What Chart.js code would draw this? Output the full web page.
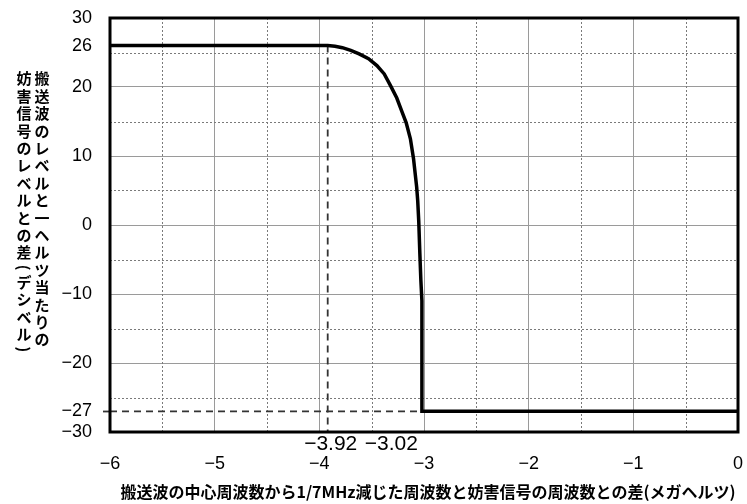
<!DOCTYPE html>
<html>
<head>
<meta charset="utf-8">
<script src="https://cdn.jsdelivr.net/npm/chart.js@4"></script>
<style>
  html, body { margin: 0; padding: 0; background: #fff; }
  #wrap { width: 747px; height: 504px; }
</style>
</head>
<body>
<div id="wrap"><canvas id="c" width="747" height="504"></canvas></div>
<script>
// Protection ratio curve (dB) against frequency offset (MHz)
const curveX = [-6, -3.92, -3.85, -3.78, -3.70, -3.62, -3.53, -3.45, -3.38, -3.32, -3.26, -3.21, -3.17, -3.13, -3.10, -3.07, -3.06, -3.05, -3.04, -3.03, -3.02, -3.02, 0];
const curveY = [26, 26, 25.9, 25.7, 25.3, 24.8, 24.1, 23.1, 21.9, 20.2, 18.4, 16.4, 14.8, 12.5, 9.6, 5.5, 3.5, 0.5, -4, -8, -11, -27, -27];

// Axis ranges and labelled ticks
const xRange = [-6, 0];
const yRange = [-30, 30];
const xTicks = [-6, -5, -4, -3, -2, -1, 0];
const yTicks = [30, 26, 20, 10, 0, -10, -20, -27, -30];

// Marked break points of the curve
const markX = [-3.92, -3.02];
const markY = [26, -27];

const xTitle = '搬送波の中心周波数から1/7MHz減じた周波数と妨害信号の周波数との差(メガヘルツ)';
const yTitleRight = '搬送波のレベルと一ヘルツ当たりの';
const yTitleLeft = '妨害信号のレベルとの差(デシベル)';

const fmt = v => (v < 0 ? '\u2212' : '') + Math.abs(v);
const numFamily = '"Liberation Sans", Arial, sans-serif';
const tickFont = { family: numFamily, size: 18 };
const titleFont = '"Noto Sans CJK JP", sans-serif';
const gridGray = '#9a9a9a';

const decor = {
  id: 'decor',
  beforeDatasetsDraw(chart) {
    const { ctx, chartArea: a, scales: { x, y } } = chart;
    ctx.save();
    ctx.strokeStyle = '#7a7a7a';
    ctx.lineWidth = 1;
    ctx.setLineDash([2, 2]);
    // minor (half-step) grid lines
    for (let v = xRange[0] + 0.5; v < xRange[1]; v += 1) {
      const px = Math.round(x.getPixelForValue(v)) + 0.5;
      ctx.beginPath(); ctx.moveTo(px, a.top); ctx.lineTo(px, a.bottom); ctx.stroke();
    }
    for (let v = yRange[0] + 5; v < yRange[1]; v += 10) {
      const py = Math.round(y.getPixelForValue(v)) + 0.5;
      ctx.beginPath(); ctx.moveTo(a.left, py); ctx.lineTo(a.right, py); ctx.stroke();
    }
    ctx.restore();
  },
  afterDraw(chart) {
    const { ctx, chartArea: a, scales: { x, y } } = chart;
    ctx.save();
    // plot frame
    ctx.strokeStyle = '#000';
    ctx.lineWidth = 3;
    ctx.strokeRect(a.left, a.top, a.right - a.left, a.bottom - a.top);

    // break point labels just under the axis
    ctx.fillStyle = '#000';
    ctx.font = `21px ${numFamily}`;
    ctx.textBaseline = 'middle';
    ctx.textAlign = 'center';
    ctx.fillText(fmt(markX[0]), x.getPixelForValue(markX[0]) + 3, a.bottom + 12);
    ctx.textAlign = 'right';
    ctx.fillText(fmt(markX[1]), x.getPixelForValue(markX[1]) - 4, a.bottom + 12);

    // x axis title
    ctx.font = `bold 16px ${titleFont}`;
    ctx.textAlign = 'center';
    ctx.fillText(xTitle, 428, 492, 620);

    // y axis title, written vertically in two columns (right column first)
    const drawColumn = (text, cx, top, pitch) => {
      let cy = top;
      for (const ch of text) {
        const paren = ch === '(' || ch === ')';
        const step = paren ? pitch * 0.7 : pitch;
        const my = cy + step / 2;
        if (paren) {
          ctx.save();
          ctx.translate(cx, my);
          ctx.rotate(Math.PI / 2);
          ctx.fillText(ch, 0, 0);
          ctx.restore();
        } else {
          ctx.fillText(ch, cx, my);
        }
        cy += step;
      }
    };
    ctx.font = `bold 15px ${titleFont}`;
    ctx.textAlign = 'center';
    ctx.textBaseline = 'middle';
    drawColumn(yTitleRight, 42, 70, 17.4);
    drawColumn(yTitleLeft, 24, 70, 17.4);
    ctx.restore();
  }
};

new Chart(document.getElementById('c'), {
  type: 'scatter',
  data: {
    datasets: [
      {
        data: curveX.map((v, i) => ({ x: v, y: curveY[i] })),
        showLine: true, borderColor: '#000', borderWidth: 3.5,
        pointRadius: 0, tension: 0, order: 0
      },
      {
        data: [{ x: markX[0], y: markY[0] }, { x: markX[0], y: yRange[0] }],
        showLine: true, borderColor: '#333', borderWidth: 1.8, borderDash: [7, 5],
        pointRadius: 0, order: 1
      },
      {
        data: [{ x: xRange[0], y: markY[1] }, { x: markX[1], y: markY[1] }],
        showLine: true, borderColor: '#333', borderWidth: 1.8, borderDash: [7, 5],
        pointRadius: 0, order: 1
      }
    ]
  },
  options: {
    responsive: false,
    animation: false,
    layout: { padding: { top: 18, right: 9, left: 0, bottom: 0 } },
    plugins: { legend: { display: false }, tooltip: { enabled: false } },
    scales: {
      x: {
        type: 'linear', min: xRange[0], max: xRange[1],
        afterBuildTicks: s => { s.ticks = xTicks.map(v => ({ value: v })); },
        afterFit: s => { s.height = 72; s.paddingLeft = 0; s.paddingRight = 0; },
        grid: { color: gridGray, lineWidth: 1, drawTicks: false },
        border: { display: false },
        ticks: { padding: 21, color: '#000', font: tickFont, callback: fmt, maxRotation: 0, autoSkip: false }
      },
      y: {
        type: 'linear', min: yRange[0], max: yRange[1],
        afterBuildTicks: s => { s.ticks = yTicks.map(v => ({ value: v })); },
        afterFit: s => { s.width = 110; s.paddingTop = 0; s.paddingBottom = 0; },
        grid: {
          color: c => (c.tick && c.tick.value % 10 === 0) ? gridGray : 'rgba(0,0,0,0)',
          lineWidth: 1,
          drawTicks: true,
          tickLength: 7,
          tickWidth: 1.8,
          tickColor: c => (c.tick && c.tick.value === markY[1]) ? '#333' : 'rgba(0,0,0,0)'
        },
        border: { display: false },
        ticks: { padding: 11, color: '#000', font: tickFont, callback: fmt, autoSkip: false }
      }
    }
  },
  plugins: [decor]
});
</script>
</body>
</html>
